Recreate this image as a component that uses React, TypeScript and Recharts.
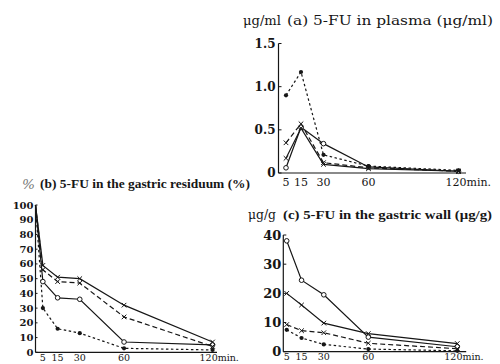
import React from 'react';
import { LineChart, Line, XAxis, YAxis } from 'recharts';

// ---- data ----
const timesA = [5, 15, 30, 60, 120];
const plasmaSolidCircle = [0.06, 0.53, 0.34, 0.07, 0.02];
const plasmaSolidCross = [0.17, 0.52, 0.1, 0.05, 0.02];
const plasmaDashCross = [0.35, 0.57, 0.12, 0.06, 0.02];
const plasmaDotFilled = [0.9, 1.17, 0.21, 0.08, 0.03];
const plasmaYTicks = [0, 0.5, 1.0, 1.5];

const timesB = [0, 5, 15, 30, 60, 120];
const residSolidCross = [100, 59, 51, 50, 32, 7];
const residDashCross = [100, 56, 48, 47, 24, 4];
const residSolidCircle = [100, 48, 37, 36, 7, 5];
const residDotFilled = [100, 30, 16, 13, 2.7, 1.6];
const residYTicks = [0, 10, 20, 30, 40, 50, 60, 70, 80, 90, 100];

const timesC = [5, 15, 30, 60, 120];
const wallSolidCircle = [38, 24.5, 19.5, 5, 1.7];
const wallSolidCross = [20, 16, 9.8, 6.2, 2.8];
const wallDashCross = [9.3, 7.2, 6.5, 2.9, 1];
const wallDotFilled = [7.5, 4.7, 2.5, 0.9, 0.3];
const wallYTicks = [0, 10, 20, 30, 40];

const xTicks = [5, 15, 30, 60, 120];

const build = (times: number[], s: number[][]) =>
  times.map((t, i) => ({ t, sc: s[0][i], sx: s[1][i], dx: s[2][i], dd: s[3][i] }));

const dataA = build(timesA, [plasmaSolidCircle, plasmaSolidCross, plasmaDashCross, plasmaDotFilled]);
const dataB = build(timesB, [residSolidCircle, residSolidCross, residDashCross, residDotFilled]);
const dataC = build(timesC, [wallSolidCircle, wallSolidCross, wallDashCross, wallDotFilled]);

const INK = '#161616';

const makeDot = (kind: string) => (props: any) => {
  const { cx, cy, payload, index } = props;
  if (cx == null || cy == null || (payload && payload.t === 0)) return <g key={`d${index}`} />;
  if (kind === 'circle')
    return <circle key={`d${index}`} cx={cx} cy={cy} r={2.3} fill="#fff" stroke={INK} strokeWidth={1} />;
  if (kind === 'x')
    return (
      <path
        key={`d${index}`}
        d={`M${cx - 2.3},${cy - 2.3}L${cx + 2.3},${cy + 2.3}M${cx - 2.3},${cy + 2.3}L${cx + 2.3},${cy - 2.3}`}
        stroke={INK}
        strokeWidth={1}
      />
    );
  return <circle key={`d${index}`} cx={cx} cy={cy} r={2.1} fill={INK} />;
};

const series = [
  { key: 'sc', dash: undefined, dot: 'circle' },
  { key: 'sx', dash: undefined, dot: 'x' },
  { key: 'dx', dash: '5 3', dot: 'x' },
  { key: 'dd', dash: '2.5 2.5', dot: 'filled' },
];

const FONT = '"DejaVu Serif", serif';
const TITLE_FONT = '"Liberation Serif", serif';

const XTick = (fs: number) => (props: any) => {
  const { x, y, payload } = props;
  const v = payload.value;
  if (v === 120)
    return (
      <text x={x - 13} y={y} dy="0.71em" textAnchor="start" fontSize={fs} fontFamily={FONT} fill={INK}>
        120min.
      </text>
    );
  return (
    <text x={x} y={y} dy="0.71em" textAnchor="middle" fontSize={fs} fontFamily={FONT} fill={INK}>
      {v}
    </text>
  );
};

const renderLines = () =>
  series.map((s) => (
    <Line
      key={s.key}
      type="linear"
      dataKey={s.key}
      stroke={INK}
      strokeWidth={1.2}
      strokeDasharray={s.dash}
      dot={makeDot(s.dot)}
      activeDot={false}
      isAnimationActive={false}
    />
  ));

const axisLine = { stroke: INK, strokeWidth: 1.2 };

export default function App() {
  return (
    <div style={{ position: 'absolute', left: 0, top: 0, width: 500, height: 364, background: '#fff', overflow: 'hidden' }}>
      {/* (a) plasma */}
      <div style={{ position: 'absolute', left: 220, top: 30, width: 280, height: 170 }}>
        <LineChart width={280} height={170} data={dataA} margin={{ top: 13.5, left: 18.5, right: 34, bottom: 7 }}>
          <XAxis
            dataKey="t"
            type="number"
            domain={[0, 125]}
            ticks={xTicks}
            height={20}
            axisLine={axisLine}
            tickLine={false}
            tickSize={0}
            tickMargin={5.5}
            tick={XTick(11)}
            interval={0}
          />
          <YAxis
            type="number"
            domain={[0, 1.5]}
            ticks={plasmaYTicks}
            width={40}
            axisLine={axisLine}
            tickLine={{ stroke: INK }}
            tickSize={-3}
            tickMargin={6}
            tickFormatter={(v: number) => (v === 0 ? '0' : v.toFixed(1))}
            tick={{ fontSize: 12, fontFamily: FONT, fontWeight: 'bold', fill: INK }}
            interval={0}
          />
          {renderLines()}
        </LineChart>
      </div>

      {/* (b) gastric residuum */}
      <div style={{ position: 'absolute', left: 0, top: 195, width: 250, height: 169 }}>
        <LineChart width={250} height={169} data={dataB} margin={{ top: 10, left: 5.5, right: 33, bottom: 1.7 }}>
          <XAxis
            dataKey="t"
            type="number"
            domain={[0, 123]}
            ticks={xTicks}
            height={10}
            axisLine={axisLine}
            tickLine={false}
            tickSize={0}
            tickMargin={1.5}
            tick={XTick(9.5)}
            interval={0}
          />
          <YAxis
            type="number"
            domain={[0, 100]}
            ticks={residYTicks}
            width={30}
            axisLine={axisLine}
            tickLine={{ stroke: INK }}
            tickSize={-2}
            tickMargin={4}
            tick={{ fontSize: 10, fontFamily: FONT, fontWeight: 'bold', fill: INK }}
            interval={0}
          />
          {renderLines()}
        </LineChart>
      </div>

      {/* (c) gastric wall */}
      <div style={{ position: 'absolute', left: 250, top: 225, width: 250, height: 139 }}>
        <LineChart width={250} height={139} data={dataC} margin={{ top: 10, left: 3.3, right: 33.8, bottom: 2.3 }}>
          <XAxis
            dataKey="t"
            type="number"
            domain={[2.7, 126]}
            allowDataOverflow
            ticks={xTicks}
            height={10}
            axisLine={axisLine}
            tickLine={false}
            tickSize={0}
            tickMargin={1.5}
            tick={XTick(9.5)}
            interval={0}
          />
          <YAxis
            type="number"
            domain={[0, 40]}
            ticks={wallYTicks}
            width={30}
            axisLine={axisLine}
            tickLine={{ stroke: INK }}
            tickSize={-3}
            tickMargin={5}
            tick={{ fontSize: 13, fontFamily: FONT, fontWeight: 'bold', fill: INK }}
            interval={0}
          />
          {renderLines()}
        </LineChart>
      </div>

      {/* titles */}
      <svg width={500} height={364} style={{ position: 'absolute', left: 0, top: 0, pointerEvents: 'none' }}>
        <g fill={INK}>
          <text x={243} y={25} fontSize={12} fontFamily={FONT} textLength={38} lengthAdjust="spacingAndGlyphs">μg/ml</text>
          <text x={287} y={25} fontSize={12} fontFamily={FONT} textLength={206} lengthAdjust="spacingAndGlyphs">(a) 5-FU in plasma (μg/ml)</text>

          <text x={22} y={189} fontSize={13} fontFamily={FONT} fontStyle="italic" fill="#777" textLength={13} lengthAdjust="spacingAndGlyphs">%</text>
          <text x={40} y={188} fontSize={13} fontFamily={TITLE_FONT} fontWeight="bold" textLength={210} lengthAdjust="spacingAndGlyphs">(b)  5-FU in the gastric residuum  (%)</text>

          <text x={248} y={219} fontSize={12} fontFamily={FONT} textLength={28} lengthAdjust="spacingAndGlyphs">μg/g</text>
          <text x={283} y={219} fontSize={13} fontFamily={TITLE_FONT} fontWeight="bold" textLength={209} lengthAdjust="spacingAndGlyphs">(c)  5-FU in the gastric wall  (μg/g)</text>
        </g>
      </svg>
    </div>
  );
}
